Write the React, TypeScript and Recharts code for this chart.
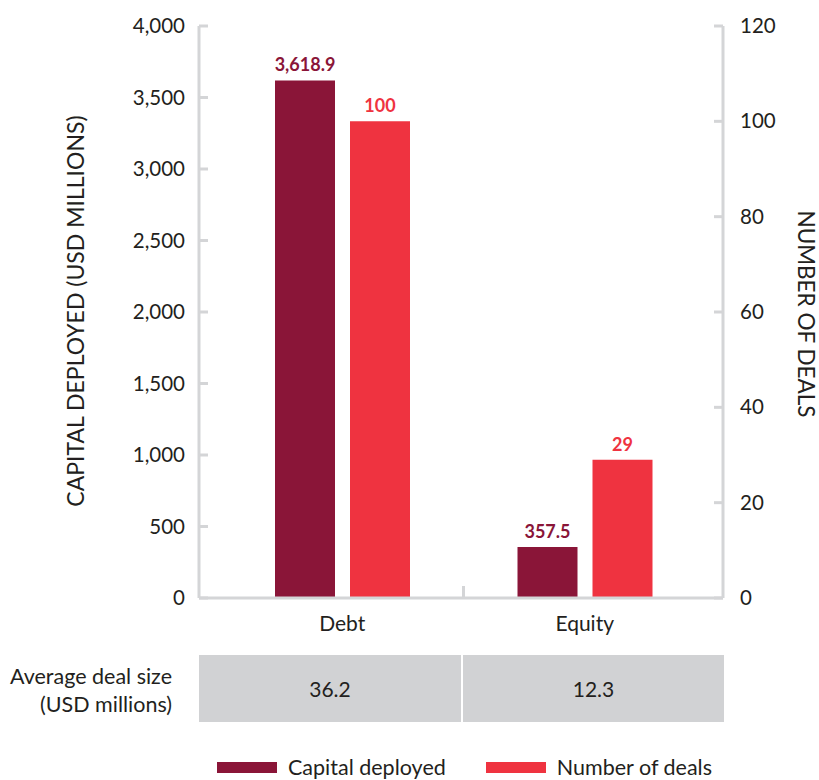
import { Bar, BarChart, LabelList, Legend, XAxis, YAxis } from "recharts";

const categories = ["Debt", "Equity"];
const capitalDeployed = [3618.9, 357.5];
const numberOfDeals = [100, 29];
const avgDealSize = ["36.2", "12.3"];
const leftTicks = [0, 500, 1000, 1500, 2000, 2500, 3000, 3500, 4000];
const rightTicks = [0, 20, 40, 60, 80, 100, 120];

const data = categories.map((category, i) => ({
  category,
  capital: capitalDeployed[i],
  deals: numberOfDeals[i],
}));

const FONT = "Lato, 'Open Sans', sans-serif";
const TEXT = "#231f20";
const AXIS = "#d4d5d7";
const CAPITAL = "#8a1538";
const DEALS = "#ef3340";
const CELL = "#d1d2d4";

const fmt = (v: number) => v.toLocaleString("en-US");

const LeftTick = (props: any) => {
  const { x, y, payload } = props;
  const axisX = x + 14;
  return (
    <g>
      <line x1={axisX} x2={axisX + 9} y1={y} y2={y} stroke={AXIS} strokeWidth={3} />
      <text x={x} y={y} dy={7} textAnchor="end" fill={TEXT} fontSize={20.5} fontFamily={FONT}>
        {fmt(payload.value)}
      </text>
    </g>
  );
};

const RightTick = (props: any) => {
  const { x, y, payload } = props;
  const axisX = x - 17;
  return (
    <g>
      <line x1={axisX - 9} x2={axisX} y1={y} y2={y} stroke={AXIS} strokeWidth={3} />
      <text x={x} y={y} dy={7} textAnchor="start" fill={TEXT} fontSize={20.5} fontFamily={FONT}>
        {payload.value}
      </text>
    </g>
  );
};

// band width = (plot width - padding) / categories
const BAND = (819 - 199 - 96 - 22 - 17) / categories.length;

const XTick = (props: any) => {
  const { x, y, payload, index } = props;
  return (
    <g>
      {index === 0 && (
        <line x1={x + BAND / 2} x2={x + BAND / 2} y1={y - 12} y2={y} stroke={AXIS} strokeWidth={3} />
      )}
      <text x={x} y={y + 33} textAnchor="middle" fill={TEXT} fontSize={21} fontFamily={FONT}>
        {payload.value}
      </text>
    </g>
  );
};

const renderLegend = (props: any) => {
  const { payload } = props;
  return (
    <div style={{ display: "flex", alignItems: "center", fontFamily: FONT }}>
      {payload.map((entry: any, i: number) => (
        <div key={i} style={{ display: "flex", alignItems: "center", marginRight: 40 }}>
          <div style={{ width: 60, height: 11, background: entry.color, marginRight: 11 }} />
          <span style={{ fontSize: 21.5, color: TEXT }}>{entry.value}</span>
        </div>
      ))}
    </div>
  );
};

export default function App() {
  return (
    <div style={{ position: "absolute", left: 0, top: 0, width: 819, height: 780, background: "#fff", fontFamily: FONT }}>
      <BarChart
        width={819}
        height={780}
        data={data}
        margin={{ top: 26, right: 0, left: 0, bottom: 142 }}
        barSize={60}
        barGap={15}
      >
        <XAxis
          dataKey="category"
          height={40}
          padding={{ left: 22, right: 17 }}
          tickSize={0}
          tickMargin={0}
          tickLine={false}
          axisLine={{ stroke: AXIS, strokeWidth: 3 }}
          tick={<XTick />}
        />
        <YAxis
          yAxisId="left"
          orientation="left"
          width={199}
          domain={[0, 4000]}
          ticks={leftTicks}
          interval={0}
          tickSize={0}
          tickMargin={14}
          tickLine={false}
          axisLine={{ stroke: AXIS, strokeWidth: 3 }}
          tick={<LeftTick />}
        />
        <YAxis
          yAxisId="right"
          orientation="right"
          width={96}
          domain={[0, 120]}
          ticks={rightTicks}
          interval={0}
          tickSize={0}
          tickMargin={17}
          tickLine={false}
          axisLine={{ stroke: AXIS, strokeWidth: 3 }}
          tick={<RightTick />}
        />
        <Legend
          verticalAlign="middle"
          align="center"
          wrapperStyle={{ top: 754, left: 217, width: 580 }}
          content={renderLegend}
        />
        <Bar yAxisId="left" dataKey="capital" name="Capital deployed" fill={CAPITAL} isAnimationActive={false}>
          <LabelList
            dataKey="capital"
            position="top"
            offset={9}
            formatter={(v: any) => fmt(Number(v))}
            fill={CAPITAL}
            fontSize={18}
            fontWeight={700}
            fontFamily={FONT}
          />
        </Bar>
        <Bar yAxisId="right" dataKey="deals" name="Number of deals" fill={DEALS} isAnimationActive={false}>
          <LabelList
            dataKey="deals"
            position="top"
            offset={9}
            fill={DEALS}
            fontSize={18}
            fontWeight={700}
            fontFamily={FONT}
          />
        </Bar>
      </BarChart>

      <div
        style={{
          position: "absolute",
          left: 75,
          top: 311,
          transform: "translate(-50%, -50%) rotate(-90deg)",
          whiteSpace: "nowrap",
          fontSize: 23,
          color: TEXT,
        }}
      >
        CAPITAL DEPLOYED (USD MILLIONS)
      </div>
      <div
        style={{
          position: "absolute",
          left: 806,
          top: 314,
          transform: "translate(-50%, -50%) rotate(90deg)",
          whiteSpace: "nowrap",
          fontSize: 22.5,
          color: TEXT,
        }}
      >
        NUMBER OF DEALS
      </div>

      <div
        style={{
          position: "absolute",
          left: 0,
          width: 172,
          top: 662,
          textAlign: "right",
          fontSize: 21.5,
          lineHeight: "28px",
          color: TEXT,
        }}
      >
        Average deal size
        <br />
        (USD millions)
      </div>
      {avgDealSize.map((v, i) => (
        <div
          key={i}
          style={{
            position: "absolute",
            left: 199 + i * 264,
            width: i === 0 ? 262 : 261,
            top: 655,
            height: 67,
            background: CELL,
            display: "flex",
            alignItems: "center",
            justifyContent: "center",
            fontSize: 21,
            color: TEXT,
          }}
        >
          {v}
        </div>
      ))}
    </div>
  );
}
